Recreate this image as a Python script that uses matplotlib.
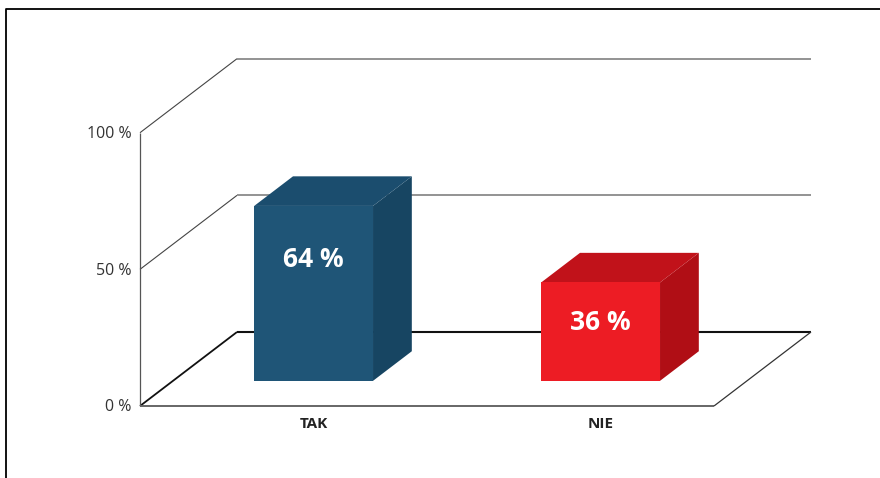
import matplotlib.pyplot as plt
from matplotlib.patches import Polygon
from matplotlib.lines import Line2D

categories = ["TAK", "NIE"]
values = [64, 36]
ticks = [0, 50, 100]
tick_labels = ["0 %", "50 %", "100 %"]

front_colors = ["#1f5577", "#ed1c24"]
top_colors = ["#1b4d6e", "#c1121a"]
side_colors = ["#174562", "#b00e15"]

plt.rcParams["font.family"] = ["Open Sans", "DejaVu Sans"]

fig = plt.figure(figsize=(8.8, 4.78), dpi=100)
ax = fig.add_axes([0, 0, 1, 1])
ax.axis("off")

# front plane: origin at (140, 72) px, 287 px per category, 2.733 px per percent
XS, YS = 287.0, 2.733
ax.set_xlim(-140 / XS, (880 - 140) / XS)
ax.set_ylim(-72 / YS, (478 - 72) / YS)

# oblique depth offset for z = 1
DX, DY = 97 / XS, 74 / YS


def proj(x, y, z):
    return x + z * DX, y + z * DY


def seg(p, q, **kw):
    ax.plot([p[0], q[0]], [p[1], q[1]], solid_capstyle="butt", **kw)


n = len(categories)

# walls and gridlines
for t, lab in zip(ticks, tick_labels):
    if t == 0:
        seg(proj(0, t, 0), proj(0, t, 1), color="#111111", lw=1.3)
        seg(proj(0, t, 1), proj(n, t, 1), color="#111111", lw=1.5)
    else:
        seg(proj(0, t, 0), proj(0, t, 1), color="#444444", lw=0.8)
        seg(proj(0, t, 1), proj(n, t, 1), color="#8a8a8a", lw=1.3)
    ax.annotate(lab, xy=(0, t), xytext=(-6, -1), textcoords="offset points",
                ha="right", va="center", fontsize=11.5, color="#333333")

seg(proj(0, 0, 0), proj(0, ticks[-1], 0), color="#555555", lw=0.9)
seg(proj(0, 0, 0), proj(n, 0, 0), color="#666666", lw=1.4)
seg(proj(n, 0, 0), proj(n, 0, 1), color="#333333", lw=0.9)

# bars
z0, z1 = 0.34, 0.74
hw = 0.207
for i, (cat, v) in enumerate(zip(categories, values)):
    cx = i + 0.49
    l, r = cx - hw, cx + hw
    front = [proj(l, 0, z0), proj(r, 0, z0), proj(r, v, z0), proj(l, v, z0)]
    top = [proj(l, v, z0), proj(r, v, z0), proj(r, v, z1), proj(l, v, z1)]
    side = [proj(r, 0, z0), proj(r, 0, z1), proj(r, v, z1), proj(r, v, z0)]
    ax.add_patch(Polygon(side, closed=True, fc=side_colors[i], ec="none", zorder=3))
    ax.add_patch(Polygon(top, closed=True, fc=top_colors[i], ec="none", zorder=3))
    ax.add_patch(Polygon(front, closed=True, fc=front_colors[i], ec="none", zorder=4))

    fx, _ = proj(cx, 0, z0)
    _, fy = proj(cx, v * 0.82 - 8, z0)
    ax.text(fx, fy, f"{v} %", ha="center", va="center", color="white",
            fontsize=19, fontweight="bold", zorder=5)
    ax.annotate(cat, xy=(fx, 0), xytext=(0, -13), textcoords="offset points",
                ha="center", va="center", fontsize=11, fontweight="bold",
                color="#222222")

# outer frame (left and top edges)
fx0, fy0 = 6 / 880, 1 - 9 / 478
fig.add_artist(Line2D([fx0, fx0, 1], [0, fy0, fy0], color="black", lw=1.3,
                      transform=fig.transFigure))

fig.savefig("out.png", dpi=100)
